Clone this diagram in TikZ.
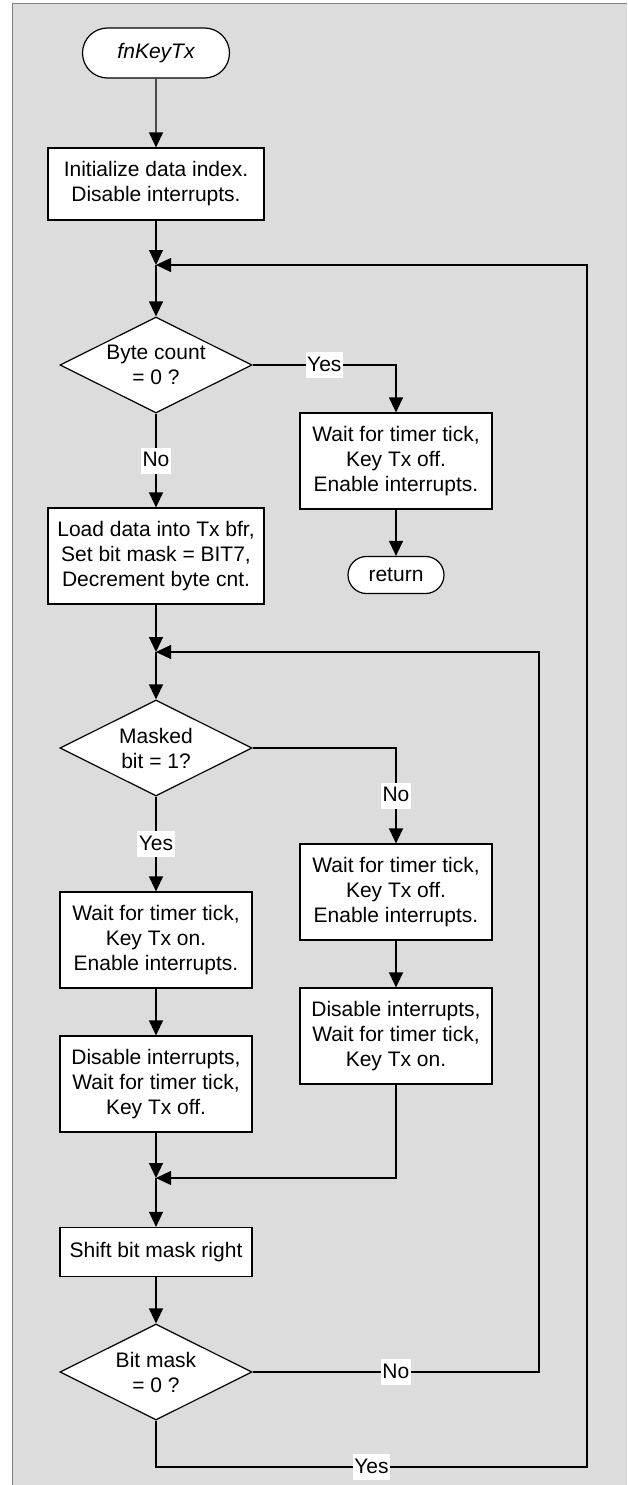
\documentclass[tikz,border=0pt]{standalone}
\usepackage{fontspec}
\setmainfont{Liberation Sans}
\usetikzlibrary{shapes.geometric,shapes.misc,arrows.meta}

\definecolor{bggray}{RGB}{220,220,220}
\definecolor{framegray}{RGB}{128,128,128}

\begin{document}
\begin{tikzpicture}[x=1pt,y=-1pt,
  font=\fontsize{21pt}{25pt}\selectfont,
  proc/.style={draw, fill=white, line width=1.2pt, align=center, inner sep=0pt,
    minimum width=192pt, minimum height=96pt},
  wideproc/.style={proc, minimum width=216pt},
  term/.style={draw, fill=white, line width=1.2pt, rounded rectangle, inner sep=0pt},
  decision/.style={draw, fill=white, line width=1.2pt, diamond, aspect=2, align=center,
    inner sep=0pt, minimum width=192pt, minimum height=96pt},
  flow/.style={line width=1.2pt, -{Triangle[length=15pt,width=14pt]}},
  lbl/.style={fill=white, inner xsep=1.5pt, inner ysep=0pt, text height=19pt, text depth=7pt}]

\useasboundingbox (0,0) rectangle (627,1485);
\fill[bggray] (12,4) rectangle (627,1485);
\draw[framegray, line width=1pt] (12,1485) -- (12,4) -- (627,4);

% Nodes
\node[term, minimum width=147pt, minimum height=50pt] (start) at (156,53) {\itshape fnKeyTx};
\node[wideproc, minimum height=72pt] (init) at (156,184) {Initialize data index.\\Disable interrupts.};
\coordinate (j1) at (156,265);
\node[decision] (bytecnt) at (156,365) {Byte count\\= 0 ?};
\node[proc] (txoff) at (396,461) {Wait for timer tick,\\Key Tx off.\\Enable interrupts.};
\node[term, minimum width=96pt, minimum height=37pt] (ret) at (396,575) {return};
\node[wideproc] (load) at (156,556) {Load data into Tx bfr,\\Set bit mask = BIT7,\\Decrement byte cnt.};
\coordinate (j2) at (156,652);
\node[decision] (masked) at (156,748) {Masked\\bit = 1?};
\node[proc] (waiton) at (156,940) {Wait for timer tick,\\Key Tx on.\\Enable interrupts.};
\node[proc] (disoff) at (156,1084) {Disable interrupts,\\Wait for timer tick,\\Key Tx off.};
\node[proc] (waitoff) at (396,892) {Wait for timer tick,\\Key Tx off.\\Enable interrupts.};
\node[proc] (dison) at (396,1036) {Disable interrupts,\\Wait for timer tick,\\Key Tx on.};
\coordinate (j3) at (156,1178);
\node[proc, minimum height=49pt] (shift) at (156,1252) {Shift bit mask right};
\node[decision] (bitmask) at (156,1372) {Bit mask\\= 0 ?};
\coordinate (inner) at (539,1372);
\coordinate (outer) at (587,1467);

% Edges
\draw[flow] (start) -- (init);
\draw[flow] (init) -- (j1);
\draw[flow] (j1) -- (bytecnt);
\draw[flow] (bytecnt.east) -| node[lbl, pos=0.25] {Yes} (txoff.north);
\draw[flow] (txoff) -- (ret);
\draw[flow] (bytecnt) -- node[lbl] {No} (load);
\draw[flow] (load) -- (j2);
\draw[flow] (j2) -- (masked);
\draw[flow] (masked) -- node[lbl] {Yes} (waiton);
\draw[flow] (masked.east) -| node[lbl, pos=0.75] {No} (waitoff.north);
\draw[flow] (waiton) -- (disoff);
\draw[flow] (waitoff) -- (dison);
\draw[flow] (disoff) -- (j3);
\draw[flow] (dison.south) |- (j3);
\draw[flow] (j3) -- (shift);
\draw[flow] (shift) -- (bitmask);
\draw[flow] (bitmask.east) -- node[lbl] {No} (inner) |- (j2);
\draw[flow] (bitmask.south) |- node[lbl, pos=0.75] {Yes} (outer) |- (j1);

\end{tikzpicture}
\end{document}
